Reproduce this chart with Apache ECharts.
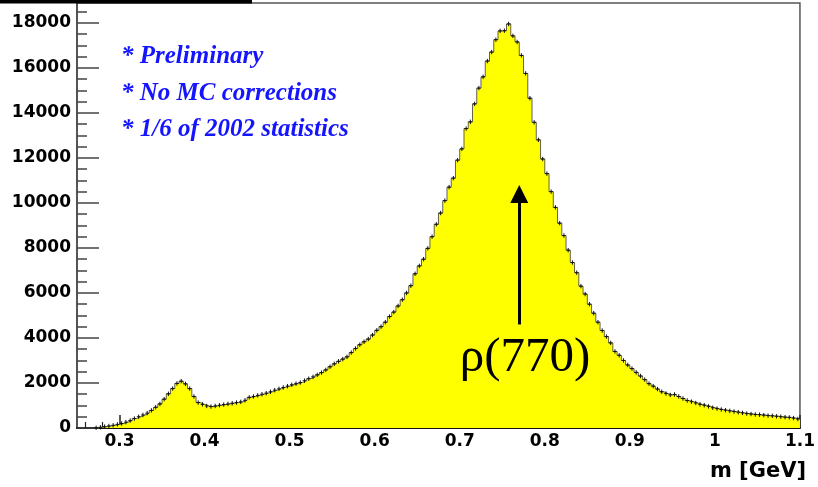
<!DOCTYPE html>
<html>
<head>
<meta charset="utf-8">
<script src="https://cdn.jsdelivr.net/npm/echarts@6/dist/echarts.min.js"></script>
<style>
html,body{margin:0;padding:0;background:#fff;}
#chart{width:818px;height:487px;}
</style>
</head>
<body>
<div id="chart"></div>
<script>
// ---- data ----
const binStart = 0.25;
const binWidth = 0.005;
const counts = [
  0, 0, 0, 0, 10, 30, 60, 90, 120, 160,
  200, 260, 330, 420, 500, 580, 660, 780, 920, 1070,
  1280, 1520, 1750, 1980, 2080, 1960, 1750, 1400, 1130, 1050,
  980, 950, 980, 1010, 1040, 1070, 1100, 1130, 1160, 1230,
  1360, 1400, 1450, 1500, 1550, 1610, 1680, 1740, 1800, 1860,
  1920, 1970, 2020, 2100, 2190, 2270, 2360, 2460, 2580, 2720,
  2850, 2960, 3060, 3160, 3350, 3530, 3700, 3830, 3950, 4130,
  4340, 4500, 4700, 4950, 5150, 5420, 5700, 6000, 6320, 6850,
  7200, 7500, 7980, 8500, 9050, 9550, 10100, 10700, 11100, 11900,
  12400, 13300, 13600, 14400, 15100, 15600, 16300, 16700, 17250, 17640,
  17650, 17950, 17420, 17150, 16550, 15750, 14650, 13580, 12800, 11950,
  11300, 10500, 9800, 9100, 8550, 7900, 7350, 6900, 6300, 5950,
  5500, 5100, 4700, 4330, 4060, 3780, 3400, 3230, 3000, 2800,
  2640, 2470, 2310, 2150, 1970, 1860, 1730, 1610, 1530, 1470,
  1490, 1400, 1310, 1220, 1170, 1110, 1050, 1010, 960, 900,
  860, 820, 790, 760, 730, 700, 670, 640, 620, 600,
  590, 570, 550, 540, 520, 500, 480, 470, 440, 400
];
const xMajorTicks = [0.3, 0.4, 0.5, 0.6, 0.7, 0.8, 0.9, 1.0, 1.1];
const xMinorTicks = [0.26, 0.28, 0.32, 0.34, 0.36, 0.38, 0.42, 0.44, 0.46, 0.48,
  0.52, 0.54, 0.56, 0.58, 0.62, 0.64, 0.66, 0.68, 0.72, 0.74, 0.76, 0.78,
  0.82, 0.84, 0.86, 0.88, 0.92, 0.94, 0.96, 0.98, 1.02, 1.04, 1.06, 1.08];
const yMajorTicks = [0, 2000, 4000, 6000, 8000, 10000, 12000, 14000, 16000, 18000];
const yMinorTicks = [500, 1000, 1500, 2500, 3000, 3500, 4500, 5000, 5500, 6500, 7000, 7500,
  8500, 9000, 9500, 10500, 11000, 11500, 12500, 13000, 13500, 14500, 15000, 15500,
  16500, 17000, 17500, 18500];
const xRange = [0.25, 1.1];
const yRange = [0, 18880];
const xTitle = 'm [GeV]';
const notes = ['* Preliminary', '* No MC corrections', '* 1/6 of 2002 statistics'];
const peakLabel = 'ρ(770)';
const arrowX = 0.77;
const arrowFrom = 4600;
const arrowTo = 10400;

// ---- derived tables ----
const histLine = counts.map((v, i) => [binStart + i * binWidth, v]);
histLine.push([binStart + counts.length * binWidth, counts[counts.length - 1]]);
const points = counts.map((v, i) => [binStart + (i + 0.5) * binWidth, v]).filter(p => p[1] > 0);

const chart = echarts.init(document.getElementById('chart'), null, {renderer: 'canvas'});
const axisFont = {color: '#000', fontFamily: 'DejaVu Sans', fontWeight: 'bold', fontSize: 17};

const option = {
  animation: false,
  backgroundColor: '#fff',
  grid: {left: 77, right: 11, top: 3, bottom: 59, show: true, borderColor: '#555', borderWidth: 1.5, backgroundColor: 'transparent'},
  xAxis: [
    {
      type: 'value', min: xRange[0], max: xRange[1],
      axisLine: {show: true, onZero: false, lineStyle: {color: '#111', width: 2}},
      axisTick: {show: true, inside: true, length: 13, customValues: xMajorTicks, lineStyle: {color: '#222', width: 1.5}},
      axisLabel: Object.assign({customValues: xMajorTicks, margin: 5, formatter: v => String(+(+v).toFixed(2))}, axisFont),
      splitLine: {show: false}
    },
    {
      type: 'value', min: xRange[0], max: xRange[1], position: 'bottom', offset: 0,
      axisLine: {show: false},
      axisTick: {show: true, inside: true, length: 6, customValues: xMinorTicks, lineStyle: {color: '#222', width: 1.2}},
      axisLabel: {show: false},
      splitLine: {show: false}
    }
  ],
  yAxis: [
    {
      type: 'value', min: yRange[0], max: yRange[1],
      axisLine: {show: true, onZero: false, lineStyle: {color: '#555', width: 2}},
      axisTick: {show: true, inside: true, length: 22, customValues: yMajorTicks, lineStyle: {color: '#444', width: 1.5}},
      axisLabel: Object.assign({customValues: yMajorTicks, margin: 6, formatter: v => String(Math.round(v))}, axisFont),
      splitLine: {show: false}
    },
    {
      type: 'value', min: yRange[0], max: yRange[1], position: 'left', offset: 0,
      axisLine: {show: false},
      axisTick: {show: true, inside: true, length: 10, customValues: yMinorTicks, lineStyle: {color: '#444', width: 1.5}},
      axisLabel: {show: false},
      splitLine: {show: false}
    }
  ],
  series: [
    {
      type: 'line', xAxisIndex: 0, yAxisIndex: 0,
      data: histLine, step: 'end', showSymbol: false, symbol: 'none',
      lineStyle: {color: '#3a3a3a', width: 0.8},
      areaStyle: {color: '#ffff00', opacity: 1},
      z: 2,
      markLine: {
        silent: true, animation: false,
        symbol: ['none', 'triangle'], symbolSize: 18,
        label: {show: false},
        lineStyle: {color: '#000', width: 3, type: 'solid'},
        data: [[{coord: [arrowX, arrowFrom]}, {coord: [arrowX, arrowTo]}]]
      }
    },
    {
      type: 'custom', xAxisIndex: 0, yAxisIndex: 0, z: 3,
      data: points,
      renderItem: function (params, api) {
        const p = api.coord([api.value(0), api.value(1)]);
        const half = api.size([binWidth, 0])[0] / 2;
        return {
          type: 'group',
          children: [
            {type: 'line', shape: {x1: p[0] - half + 0.3, y1: p[1], x2: p[0] + half - 0.3, y2: p[1]}, style: {stroke: '#111', lineWidth: 1}},
            {type: 'line', shape: {x1: p[0], y1: p[1] - 2.2, x2: p[0], y2: p[1] + 2.2}, style: {stroke: '#111', lineWidth: 1}}
          ]
        };
      }
    }
  ],
  graphic: [
    {type: 'rect', left: 0, top: 0, shape: {x: 0, y: 0, width: 252, height: 3.5}, style: {fill: '#000'}, z: 100},
    {type: 'text', x: 121, y: 57, style: {text: notes[0], fill: '#1414ff', font: 'italic bold 25px "Liberation Serif"', textAlign: 'left', textVerticalAlign: 'middle'}, z: 100},
    {type: 'text', x: 121, y: 94, style: {text: notes[1], fill: '#1414ff', font: 'italic bold 25px "Liberation Serif"', textAlign: 'left', textVerticalAlign: 'middle'}, z: 100},
    {type: 'text', x: 121, y: 129.5, style: {text: notes[2], fill: '#1414ff', font: 'italic bold 25px "Liberation Serif"', textAlign: 'left', textVerticalAlign: 'middle'}, z: 100},
    {type: 'text', x: 525, y: 358, style: {text: peakLabel, fill: '#000', font: '49px "Liberation Serif"', textAlign: 'center', textVerticalAlign: 'middle'}, z: 100},
    {type: 'text', x: 806, y: 472, style: {text: xTitle, fill: '#000', font: 'bold 21px "DejaVu Sans"', textAlign: 'right', textVerticalAlign: 'middle'}, z: 100}
  ]
};
chart.setOption(option);
</script>
</body>
</html>
